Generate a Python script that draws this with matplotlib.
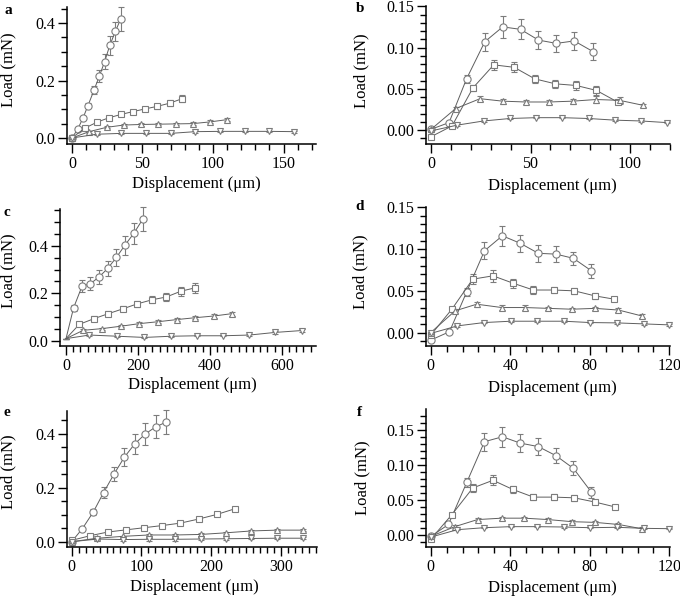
import numpy as np
import matplotlib
matplotlib.use("Agg")
import matplotlib.pyplot as plt
from matplotlib.ticker import MultipleLocator, FormatStrFormatter

plt.rcParams['font.family'] = 'serif'
plt.rcParams['font.serif'] = ['Liberation Serif', 'DejaVu Serif']

# panel a
a_circ_x = [0, 4, 7.8, 11.4, 15.6, 19.4, 23.2, 26.8, 30.8, 34.6]
a_circ_y = [0, 0.030, 0.069, 0.113, 0.166, 0.215, 0.266, 0.322, 0.371, 0.415]
a_circ_e = [0.002, 0.004, 0.006, 0.010, 0.014, 0.020, 0.026, 0.032, 0.032, 0.042]
a_sq_x = [0, 9, 17.8, 26, 34.8, 43.4, 51.7, 60.4, 69.2, 77.7]
a_sq_y = [0, 0.034, 0.055, 0.070, 0.082, 0.092, 0.101, 0.110, 0.121, 0.136]
a_sq_e = [0.002, 0.003, 0.004, 0.005, 0.006, 0.007, 0.008, 0.009, 0.010, 0.012]
a_up_x = [0, 12.2, 24.5, 36.7, 49, 61.2, 73.5, 85.7, 98, 110.2]
a_up_y = [0, 0.022, 0.037, 0.045, 0.047, 0.048, 0.049, 0.050, 0.056, 0.064]
a_up_e = [0.001, 0.003, 0.004, 0.004, 0.004, 0.004, 0.004, 0.004, 0.005, 0.005]
a_dn_x = [0, 17.5, 35, 52.5, 70, 87.5, 105, 122.5, 140, 157.5]
a_dn_y = [0, 0.013, 0.016, 0.016, 0.016, 0.022, 0.023, 0.023, 0.023, 0.022]
a_dn_e = [0.001, 0.002, 0.002, 0.002, 0.002, 0.003, 0.003, 0.003, 0.003, 0.003]

# panel b
b_circ_x = [0, 9, 17.8, 27, 36, 45, 54, 63, 72, 81.5]
b_circ_y = [0.001, 0.009, 0.062, 0.107, 0.125, 0.122, 0.109, 0.105, 0.108, 0.095]
b_circ_e = [0.002, 0.002, 0.005, 0.011, 0.013, 0.012, 0.011, 0.0105, 0.011, 0.010]
b_sq_x = [0, 10.5, 21, 31.5, 41.8, 52.2, 62.5, 73, 83.2, 93.8]
b_sq_y = [-0.008, 0.005, 0.051, 0.079, 0.076, 0.062, 0.056, 0.054, 0.048, 0.034]
b_sq_e = [0.002, 0.002, 0.004, 0.006, 0.006, 0.005, 0.005, 0.005, 0.005, 0.003]
b_up_x = [0, 12.3, 24.6, 36, 47.6, 59.4, 71.2, 83, 94.8, 106.6]
b_up_y = [0.001, 0.026, 0.038, 0.035, 0.034, 0.034, 0.035, 0.037, 0.036, 0.030]
b_up_e = [0.001, 0.002, 0.003, 0.003, 0.003, 0.003, 0.003, 0.004, 0.004, 0.002]
b_dn_x = [0, 13.2, 26.4, 39.6, 52.8, 66, 79.2, 92.4, 105.6, 118.8]
b_dn_y = [-0.001, 0.006, 0.011, 0.014, 0.015, 0.015, 0.014, 0.012, 0.011, 0.009]
b_dn_e = [0.001, 0.001, 0.001, 0.001, 0.001, 0.001, 0.001, 0.001, 0.001, 0.001]

# panel c
c_circ_x = [0, 21, 44.5, 68, 92, 116, 140, 164, 188.5, 213]
c_circ_y = [0.01, 0.139, 0.230, 0.241, 0.269, 0.305, 0.351, 0.403, 0.452, 0.511]
c_circ_e = [0, 0.012, 0.025, 0.027, 0.028, 0.030, 0.035, 0.040, 0.045, 0.050]
c_sq_x = [0, 37, 78, 118, 158, 198, 239, 279, 319, 358]
c_sq_y = [0.01, 0.070, 0.094, 0.115, 0.135, 0.156, 0.173, 0.185, 0.209, 0.223]
c_sq_e = [0, 0.008, 0.009, 0.010, 0.011, 0.012, 0.014, 0.016, 0.018, 0.020]
c_up_x = [0, 48, 100, 152, 204, 256, 308, 360, 411, 462]
c_up_y = [0.01, 0.045, 0.052, 0.062, 0.073, 0.081, 0.090, 0.098, 0.105, 0.115]
c_up_e = [0, 0.004, 0.004, 0.005, 0.005, 0.006, 0.006, 0.007, 0.007, 0.008]
c_dn_x = [0, 65, 143, 218, 292, 365, 437, 510, 581, 656]
c_dn_y = [0.01, 0.025, 0.020, 0.015, 0.020, 0.022, 0.022, 0.025, 0.036, 0.044]
c_dn_e = [0, 0.003, 0.003, 0.003, 0.003, 0.003, 0.003, 0.004, 0.005, 0.005]

# panel d
d_circ_x = [0, 9.4, 18.1, 27, 36, 45, 54.1, 63, 71.7, 80.8]
d_circ_y = [-0.009, 0.001, 0.049, 0.098, 0.116, 0.107, 0.095, 0.094, 0.089, 0.074]
d_circ_e = [0.002, 0.002, 0.005, 0.010, 0.012, 0.010, 0.010, 0.0095, 0.008, 0.008]
d_sq_x = [0, 10.6, 21.1, 31.3, 41.6, 51.6, 62, 72.2, 82.5, 92.3]
d_sq_y = [-0.003, 0.028, 0.064, 0.068, 0.059, 0.051, 0.051, 0.050, 0.044, 0.040]
d_sq_e = [0.001, 0.002, 0.006, 0.007, 0.005, 0.005, 0.004, 0.004, 0.004, 0.002]
d_up_x = [0, 12.2, 23.1, 35.7, 47.4, 59.2, 70.9, 82.6, 94.4, 106]
d_up_y = [0, 0.026, 0.034, 0.030, 0.030, 0.029, 0.028, 0.029, 0.027, 0.020]
d_up_e = [0.001, 0.002, 0.003, 0.003, 0.003, 0.002, 0.002, 0.002, 0.002, 0.002]
d_dn_x = [0, 13.4, 26.8, 40.2, 53.5, 66.9, 80.1, 93.5, 107, 120]
d_dn_y = [-0.001, 0.008, 0.012, 0.0136, 0.0136, 0.0136, 0.012, 0.0116, 0.0104, 0.0092]
d_dn_e = [0.001, 0.001, 0.001, 0.001, 0.001, 0.001, 0.001, 0.001, 0.001, 0.001]

# panel e
e_circ_x = [0, 15.2, 31, 45.7, 61, 75.7, 90.5, 105.7, 120.5, 135.7]
e_circ_y = [0, 0.048, 0.110, 0.182, 0.252, 0.314, 0.363, 0.400, 0.426, 0.444]
e_circ_e = [0, 0.004, 0.010, 0.020, 0.026, 0.033, 0.037, 0.041, 0.043, 0.044]
e_sq_x = [0, 26, 52, 78, 104, 130, 156, 182, 208, 234]
e_sq_y = [0.005, 0.022, 0.036, 0.044, 0.052, 0.060, 0.069, 0.084, 0.101, 0.122]
e_sq_e = [0.002, 0.003, 0.004, 0.004, 0.005, 0.005, 0.006, 0.006, 0.007, 0.008]
e_up_x = [0, 37, 74, 111, 148, 185, 221, 258, 295, 332]
e_up_y = [0, 0.013, 0.020, 0.025, 0.025, 0.027, 0.033, 0.040, 0.043, 0.043]
e_up_e = [0, 0.002, 0.003, 0.004, 0.004, 0.004, 0.004, 0.005, 0.005, 0.005]
e_dn_x = [0, 37, 74, 111, 148, 185, 221, 258, 295, 332]
e_dn_y = [0, 0.010, 0.008, 0.009, 0.009, 0.010, 0.011, 0.012, 0.013, 0.013]
e_dn_e = [0, 0.002, 0.004, 0.005, 0.005, 0.005, 0.004, 0.003, 0.003, 0.003]

# panel f
f_circ_x = [0, 8.9, 18.1, 27, 36, 45, 54.1, 63, 71.7, 80.8]
f_circ_y = [-0.002, 0.015, 0.075, 0.133, 0.140, 0.131, 0.126, 0.113, 0.095, 0.061]
f_circ_e = [0.002, 0.002, 0.006, 0.013, 0.014, 0.013, 0.0126, 0.011, 0.010, 0.008]
f_sq_x = [0, 10.6, 21.1, 31.3, 41.2, 51.6, 62, 72.2, 82.5, 92.7]
f_sq_y = [-0.006, 0.029, 0.067, 0.078, 0.065, 0.054, 0.054, 0.053, 0.047, 0.040]
f_sq_e = [0.002, 0.003, 0.006, 0.007, 0.005, 0.004, 0.004, 0.004, 0.003, 0.002]
f_up_x = [0, 12.2, 23.5, 35.7, 47, 59, 71, 82.6, 94.4, 106]
f_up_y = [-0.002, 0.012, 0.022, 0.024, 0.024, 0.022, 0.019, 0.018, 0.015, 0.009]
f_up_e = [0.001, 0.002, 0.002, 0.002, 0.002, 0.002, 0.002, 0.002, 0.002, 0.002]
f_dn_x = [0, 13.4, 26.8, 40.2, 53.5, 66.9, 80.1, 93.5, 107, 120]
f_dn_y = [-0.003, 0.0076, 0.0104, 0.0119, 0.0119, 0.0114, 0.0104, 0.011, 0.0095, 0.009]
f_dn_e = [0.001, 0.001, 0.001, 0.001, 0.001, 0.001, 0.001, 0.001, 0.001, 0.001]

W, H = 680, 596
LINE = '#5e5e5e'
MARK = '#7c7c7c'


def fx(px):
    return px / W


def fy(py):
    return 1 - py / H


# draw one panel of four curves
def draw_panel(rect, series, xlim, ylim, xstep, ymaj, ymin, yfmt, letter, xlab, ylab, let_pos,
               skip_first=False):
    l, t, r, b = rect
    ax = fig.add_axes([fx(l), fy(b), (r - l) / W, (b - t) / H])
    markers = [('o', 5.2), ('s', 4.6), ('^', 4.8), ('v', 4.8)]
    for (x, y, e), (m, ms) in zip(series, markers):
        every = slice(1, None) if skip_first else None
        cont = ax.errorbar(x, y, yerr=e, fmt='-', color=LINE, lw=0.7,
                           marker=m, ms=ms, mfc='white', mec=MARK, mew=0.8,
                           markevery=every,
                           ecolor=MARK, elinewidth=0.8, capsize=2.2, capthick=0.8)
        for art in cont.get_children():
            art.set_clip_on(False)
    ax.set_xlim(*xlim)
    ax.set_ylim(*ylim)
    ax.xaxis.set_major_locator(MultipleLocator(xstep[0]))
    ax.xaxis.set_minor_locator(MultipleLocator(xstep[1]))
    ax.yaxis.set_major_locator(MultipleLocator(ymaj))
    ax.yaxis.set_minor_locator(MultipleLocator(ymin))
    ax.yaxis.set_major_formatter(FormatStrFormatter(yfmt))
    for s in ['top', 'right']:
        ax.spines[s].set_visible(False)
    for s in ['left', 'bottom']:
        ax.spines[s].set_linewidth(1.1)
    ax.tick_params(which='major', direction='out', length=6.5, width=1.0, labelsize=11.5, pad=2)
    ax.tick_params(which='minor', direction='out', length=4, width=1.0)
    ax.set_xlabel('Displacement (\u03bcm)', fontsize=12)
    ax.set_ylabel('Load (mN)', fontsize=12)
    ax.xaxis.set_label_coords(fx(xlab[0]), fy(xlab[1]), transform=fig.transFigure)
    ax.yaxis.set_label_coords(fx(ylab[0]), fy(ylab[1]), transform=fig.transFigure)
    ax.xaxis.label.set_va('center')
    ax.yaxis.label.set_va('center')
    fig.text(fx(let_pos[0]), fy(let_pos[1]), letter, fontsize=11, fontweight='bold',
             ha='center', va='center')
    return ax


fig = plt.figure(figsize=(W / 100, H / 100), dpi=100)

draw_panel((67, 7, 316, 144),
           [(a_circ_x, a_circ_y, a_circ_e), (a_sq_x, a_sq_y, a_sq_e),
            (a_up_x, a_up_y, a_up_e), (a_dn_x, a_dn_y, a_dn_e)],
           (-3.5, 173), (-0.021, 0.456), (50, 10), 0.2, 0.05, '%.1f',
           'a', (196, 184), (8.5, 70), (8.5, 11))
draw_panel((426, 6, 670, 144),
           [(b_circ_x, b_circ_y, b_circ_e), (b_sq_x, b_sq_y, b_sq_e),
            (b_up_x, b_up_y, b_up_e), (b_dn_x, b_dn_y, b_dn_e)],
           (-2.6, 120.2), (-0.0169, 0.1503), (50, 10), 0.05, 0.01, '%.2f',
           'b', (552, 186), (361, 71), (360, 8))
draw_panel((60, 209, 316, 346),
           [(c_circ_x, c_circ_y, c_circ_e), (c_sq_x, c_sq_y, c_sq_e),
            (c_up_x, c_up_y, c_up_e), (c_dn_x, c_dn_y, c_dn_e)],
           (-16.7, 695), (-0.021, 0.5545), (200, 20), 0.2, 0.05, '%.1f',
           'c', (192, 385), (8, 271), (7, 212), skip_first=True)
draw_panel((426, 207, 670, 346),
           [(d_circ_x, d_circ_y, d_circ_e), (d_sq_x, d_sq_y, d_sq_e),
            (d_up_x, d_up_y, d_up_e), (d_dn_x, d_dn_y, d_dn_e)],
           (-2.4, 120.3), (-0.0161, 0.1505), (40, 8), 0.05, 0.01, '%.2f',
           'd', (552, 388), (360, 272), (360, 207))
draw_panel((67, 411, 317, 547),
           [(e_circ_x, e_circ_y, e_circ_e), (e_sq_x, e_sq_y, e_sq_e),
            (e_up_x, e_up_y, e_up_e), (e_dn_x, e_dn_y, e_dn_e)],
           (-6.7, 352), (-0.0196, 0.485), (100, 10), 0.2, 0.05, '%.1f',
           'e', (194, 587), (8, 472), (7, 413))
draw_panel((426, 409, 670, 547),
           [(f_circ_x, f_circ_y, f_circ_e), (f_sq_x, f_sq_y, f_sq_e),
            (f_up_x, f_up_y, f_up_e), (f_dn_x, f_dn_y, f_dn_e)],
           (-2.4, 120.3), (-0.0171, 0.1796), (40, 8), 0.05, 0.01, '%.2f',
           'f', (552, 588), (362, 478), (359, 412))

fig.savefig('out.png', dpi=100)
